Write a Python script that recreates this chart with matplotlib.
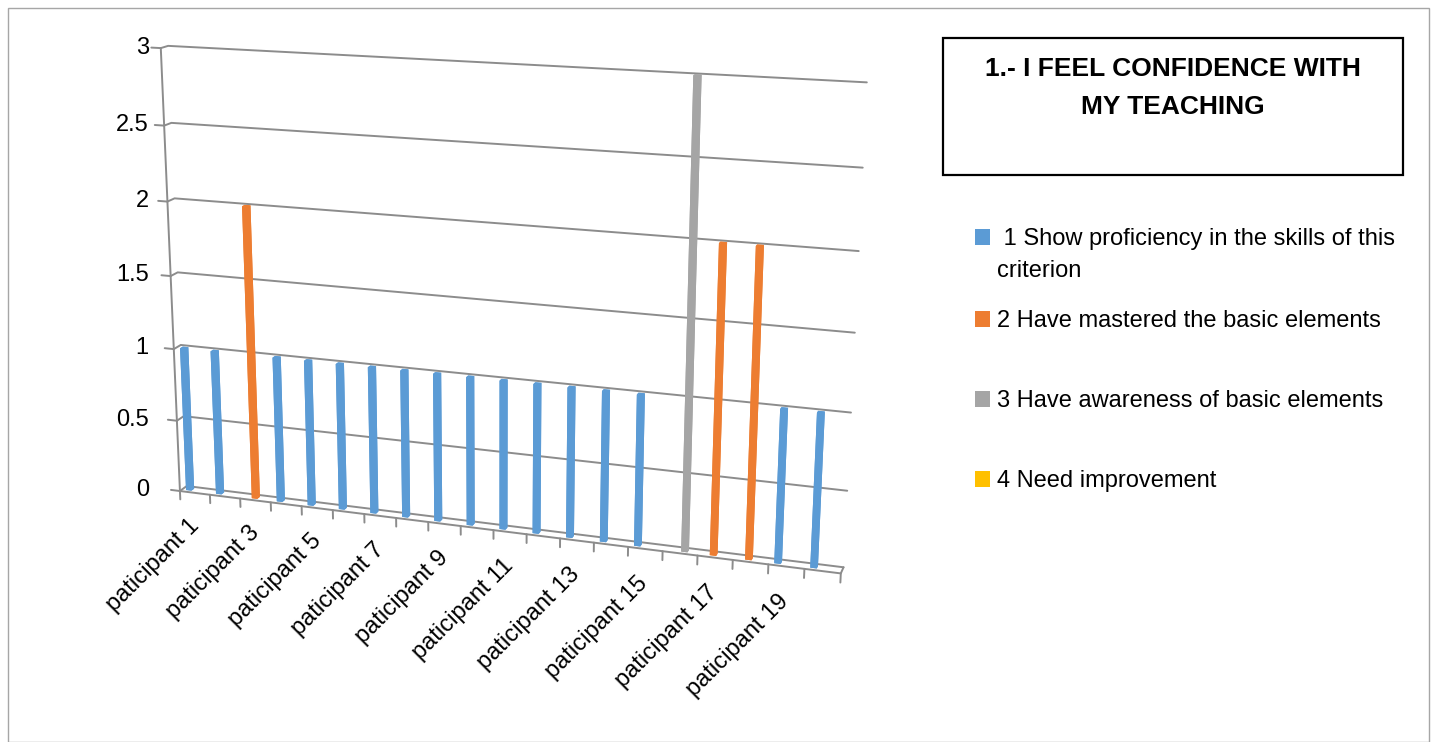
import numpy as np
import matplotlib
matplotlib.use("Agg")
import matplotlib.pyplot as plt
from matplotlib.patches import Patch, Rectangle
from mpl_toolkits.mplot3d import proj3d

plt.rcParams['font.family'] = ['Liberation Sans', 'DejaVu Sans']

# ---- data ----
participants = ["paticipant 1", "paticipant 2", "paticipant 3", "paticipant 4",
                "paticipant 5", "paticipant 6", "paticipant 7", "paticipant 8",
                "paticipant 9", "paticipant 10", "paticipant 11", "paticipant 12",
                "paticipant 13", "paticipant 14", "paticipant 15", "paticipant 16",
                "paticipant 17", "paticipant 18", "paticipant 19", "paticipant 20"]
series_names = [" 1 Show proficiency in the skills of this",
                "2 Have mastered the basic elements",
                "3 Have awareness of basic elements",
                "4 Need improvement"]
series1_wrap = "criterion"
colors = ['#5B9BD5', '#ED7D31', '#A5A5A5', '#FFC000']
show_proficiency = [1, 1, 0, 1, 1, 1, 1, 1, 1, 1, 1, 1, 1, 1, 1, 0, 0, 0, 1, 1]
mastered_basic = [0, 0, 2, 0, 0, 0, 0, 0, 0, 0, 0, 0, 0, 0, 0, 0, 2, 2, 0, 0]
awareness_basic = [0, 0, 0, 0, 0, 0, 0, 0, 0, 0, 0, 0, 0, 0, 0, 3, 0, 0, 0, 0]
need_improvement = [0, 0, 0, 0, 0, 0, 0, 0, 0, 0, 0, 0, 0, 0, 0, 0, 0, 0, 0, 0]
value_ticks = [0, 0.5, 1, 1.5, 2, 2.5, 3]
title = "1.- I FEEL CONFIDENCE WITH\nMY TEACHING"

series = [show_proficiency, mastered_basic, awareness_basic, need_improvement]
n_cat = len(participants)

W, H = 1437, 742
fig = plt.figure(figsize=(W / 100, H / 100), dpi=100, facecolor='white')

# 3D clustered column look (Excel style perspective)
ax = fig.add_axes([-0.0122, -0.1004, 0.6959, 1.3477], projection='3d', computed_zorder=False)
ax.set_box_aspect((19.45, 0.44, 13.07), zoom=0.8356)
ax.view_init(elev=15.5, azim=-71.5)
ax.set_proj_type('persp', focal_length=0.385)
x0, x1 = -0.5, n_cat - 0.5
ax.set_xlim(x0, x1)
ax.set_ylim(0, 1)
ax.set_zlim(0, 3)
ax.set_axis_off()
M = ax.get_proj()

grid_kw = dict(color='#8c8c8c', lw=1.4, zorder=1, solid_capstyle='round')
fs = 17

# walls, gridlines, value axis
lab_x, _, _ = proj3d.proj_transform(x0 - 1.05, 0, 0, M)
for v in value_ticks:
    ax.plot([x0, x0, x1], [0, 1, 1], [v, v, v], **grid_kw)
    ax.plot([x0, x0 - 0.3], [0, 0], [v, v], **grid_kw)
    _, lab_y, _ = proj3d.proj_transform(x0 - 0.3, 0, v, M)
    ax.text2D(lab_x, lab_y, f"{v:g}", transform=ax.transData, ha='right', va='center',
              fontsize=fs, zorder=4)
ax.plot([x0, x0], [0, 0], [0, value_ticks[-1]], **grid_kw)

# floor and category ticks
ax.plot([x0, x1, x1], [0, 0, 1], [0, 0, 0], **grid_kw)
for b in np.arange(n_cat + 1) - 0.5:
    ax.plot([b, b], [0, 0], [0, -0.06], **grid_kw)

# bars: 4 series clustered per participant, gap width 150%
gap = 1.5
bw = 1 / (len(series) + gap)
for s, (vals, c) in enumerate(zip(series, colors)):
    vals = np.asarray(vals, dtype=float)
    idx = np.nonzero(vals)[0]
    if len(idx) == 0:
        continue
    left = idx - 0.5 + gap / 2 * bw + s * bw
    ax.bar3d(left, np.full(len(idx), 0.3), np.zeros(len(idx)),
             bw, 0.4, vals[idx], color=c, shade=False, zorder=3)

# category labels, every other one like Excel, rotated 45 deg on screen
for i in range(0, n_cat, 2):
    px, py, _ = proj3d.proj_transform(i, 0, -0.21, M)
    ax.text2D(px, py, participants[i], transform=ax.transData, rotation=45,
              ha='right', va='center', rotation_mode='anchor', fontsize=fs, zorder=4)

# title box
fig.add_artist(Rectangle((943 / W, 1 - 175 / H), 460 / W, 137 / H, transform=fig.transFigure,
                         fill=False, ec='black', lw=1.6))
fig.text(1173 / W, 1 - 88 / H, title, ha='center', va='center', fontsize=19,
         fontweight='bold', linespacing=1.7)

# legend
handles = [Patch(facecolor=c, edgecolor='none') for c in colors]
leg_kw = dict(loc='upper left', frameon=False, fontsize=fs, handlelength=0.65,
              handleheight=0.65, handletextpad=0.3, borderpad=0, borderaxespad=0)
fig.legend(handles[:1], series_names[:1], bbox_to_anchor=(975 / W, 1 - 228 / H), **leg_kw)
fig.text(997 / W, 1 - 271 / H, series1_wrap, ha='left', va='center', fontsize=fs)
fig.legend(handles[1:], series_names[1:], bbox_to_anchor=(975 / W, 1 - 310 / H),
           labelspacing=2.46, **leg_kw)

# chart area border
fig.add_artist(Rectangle((8 / W, 0), 1421 / W, 1 - 8 / H, transform=fig.transFigure,
                         fill=False, ec='#a6a6a6', lw=1.0))

fig.savefig("out.png", dpi=100, facecolor='white')
